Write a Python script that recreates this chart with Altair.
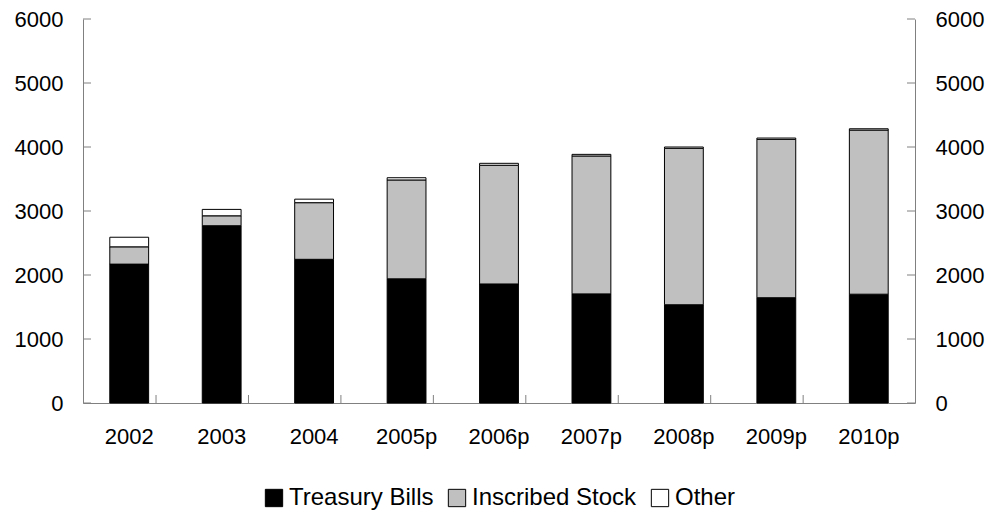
import altair as alt
import pandas as pd

# Outstanding government debt by instrument (millions), 2002-2010 (p = projected)
years = ["2002", "2003", "2004", "2005p", "2006p", "2007p", "2008p", "2009p", "2010p"]
treasury_bills = [2170, 2770, 2245, 1940, 1860, 1705, 1535, 1645, 1700]
inscribed_stock = [270, 155, 885, 1545, 1855, 2155, 2445, 2475, 2565]
other = [150, 100, 55, 35, 30, 25, 20, 20, 20]

series = ["Treasury Bills", "Inscribed Stock", "Other"]
fills = ["#000000", "#c0c0c0", "#ffffff"]
y_ticks = [0, 1000, 2000, 3000, 4000, 5000, 6000]

rows = []
for i, yr in enumerate(years):
    for k, (name, vals) in enumerate(zip(series, [treasury_bills, inscribed_stock, other])):
        rows.append({"year": yr, "series": name, "value": vals[i], "ord": k})
df = pd.DataFrame(rows)

W, H = 832, 384
STEP = W / len(years)
AXIS_GREY = "#808080"
FONT = "Liberation Sans"

x_scale = alt.Scale(domain=years, paddingInner=0.58, paddingOuter=0.29)
y_scale = alt.Scale(domain=[0, 6000], nice=False)

axis_common = dict(
    values=y_ticks, format="d", ticks=False, grid=False, title=None,
    domainColor=AXIS_GREY, domainWidth=1,
    labelFontSize=22, labelFont=FONT, labelColor="black", labelPadding=20,
)

bars = alt.Chart(df).mark_bar(stroke="black", strokeWidth=1).encode(
    x=alt.X("year:N", scale=x_scale, sort=years,
            axis=alt.Axis(title=None, ticks=False, labelAngle=0, labelFontSize=22,
                          labelFont=FONT, labelColor="black", labelPadding=23,
                          domainColor=AXIS_GREY, domainWidth=1)),
    y=alt.Y("value:Q", stack="zero", scale=y_scale,
            axis=alt.Axis(orient="left", **axis_common)),
    color=alt.Color("series:N", scale=alt.Scale(domain=series, range=fills),
                    legend=alt.Legend(orient="none", legendX=179, legendY=467,
                                      direction="horizontal", title=None,
                                      symbolType="square", symbolSize=300,
                                      symbolStrokeColor="black", symbolStrokeWidth=1,
                                      labelFontSize=24, labelFont=FONT, labelColor="black",
                                      labelLimit=0, labelOffset=3, columnPadding=11)),
    order=alt.Order("ord:Q"),
)

tick_df = pd.DataFrame({"v": y_ticks})

# inward-pointing ticks on the left axis; the right layer also carries the right axis
left_ticks = alt.Chart(tick_df).mark_rule(color=AXIS_GREY, strokeWidth=1).encode(
    y=alt.Y("v:Q", scale=y_scale, axis=None),
    x=alt.value(0), x2=alt.value(8),
)
right_ticks = alt.Chart(tick_df).mark_rule(color=AXIS_GREY, strokeWidth=1).encode(
    y=alt.Y("v:Q", scale=y_scale, axis=alt.Axis(orient="right", **axis_common)),
    x=alt.value(W - 8), x2=alt.value(W),
)

# category separators on the x axis, pointing up into the plot
sep_df = pd.DataFrame({"year": years[1:]})
x_ticks = alt.Chart(sep_df).mark_rule(color=AXIS_GREY, strokeWidth=1).encode(
    x=alt.X("year:N", scale=x_scale, sort=years),
    xOffset=alt.value(-STEP / 2),
    y=alt.value(H - 8), y2=alt.value(H),
)

chart = (
    alt.layer(bars, left_ticks, x_ticks, right_ticks)
    .resolve_axis(y="independent")
    .properties(
        width=W, height=H,
        autosize=alt.AutoSizeParams(type="none"),
        padding={"left": 83, "top": 19, "right": 990 - 83 - W, "bottom": 512 - 19 - H},
        background="white",
    )
    .configure_view(stroke=None)
)

chart.save("out.html", embed_options={"renderer": "svg", "actions": False})
